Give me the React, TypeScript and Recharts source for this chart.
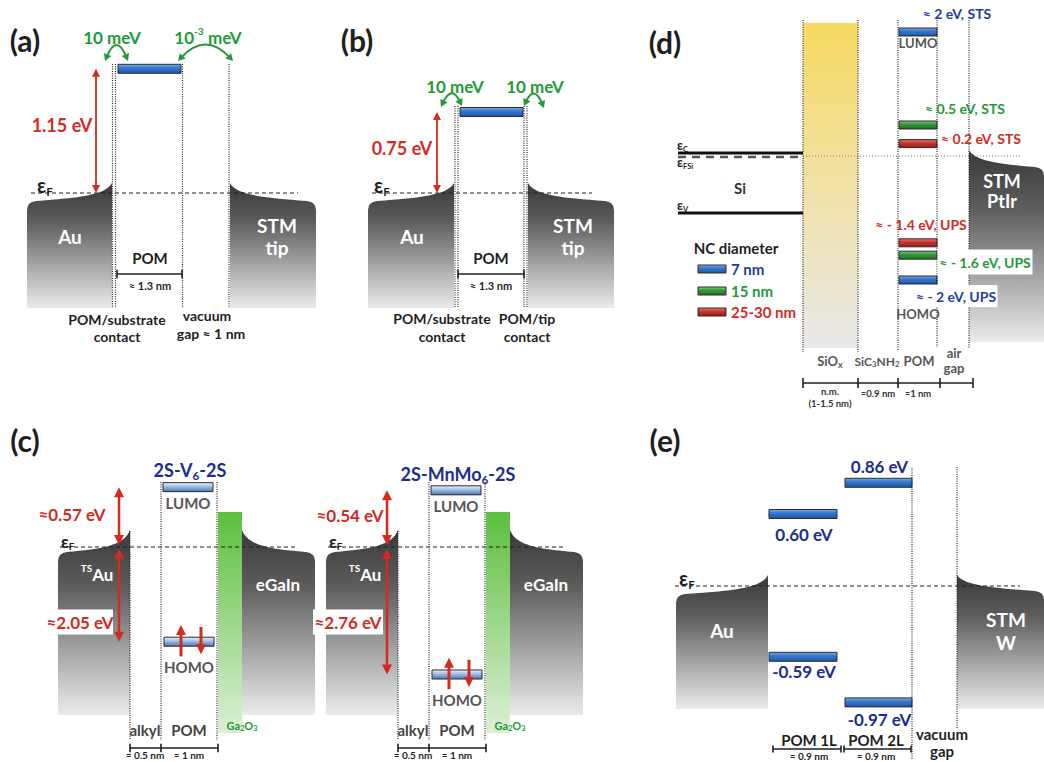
import React from 'react';
import { ComposedChart, XAxis, YAxis, ReferenceArea, ReferenceLine, ReferenceDot } from 'recharts';

const FONT = 'Lato, "Open Sans", "DejaVu Sans", sans-serif';
const INK = '#1f1f1f';
const GREY = '#565656';
const RED = '#d22b1f';
const GREEN = '#24993b';
const NAVY = '#1d2d8d';
const BLUE = '#1f3d9e';

// (a) / (b): single POM level above E_F (eV) and the tunnelling couplings
const abLevelEv = [1.15, 0.75];
const abCouplings = [['10 meV', '10^-3 meV'], ['10 meV', '10 meV']];

// (c): 2S-POM-2S junctions, LUMO / HOMO relative to E_F (eV)
const cMolecules = ['2S-V6-2S', '2S-MnMo6-2S'];
const cLumoEv = [0.57, 0.54];
const cHomoEv = [-2.05, -2.76];

// (d): one entry per nanocrystal diameter
const dSizes = ['7 nm', '15 nm', '25-30 nm'];
const dLumoEv = [2, 0.5, 0.2];
const dHomoEv = [-2, -1.6, -1.4];
const dLumoMethod = ['STS', 'STS', 'STS'];
const dHomoMethod = ['UPS', 'UPS', 'UPS'];

// (e): POM mono- and bilayer
const eLayers = ['POM 1L', 'POM 2L'];
const eLumoEv = [0.6, 0.86];
const eHomoEv = [-0.59, -0.97];

// ---------- small drawing helpers ----------

function Frame({ left, top, width, height, yTop, yBottom, children }: any) {
  return (
    <div style={{ position: 'absolute', left, top, width, height }}>
      <ComposedChart width={width} height={height} margin={{ top: 0, right: 0, bottom: 0, left: 0 }}>
        <XAxis type="number" dataKey="x" domain={[left, left + width]} hide allowDataOverflow />
        <YAxis type="number" domain={[yBottom, yTop]} hide allowDataOverflow />
        {children}
      </ComposedChart>
    </div>
  );
}

function Txt({ x, y, size = 15, color = INK, anchor = 'middle', box, children }: any) {
  return (
    <ReferenceDot
      x={x}
      y={y}
      r={0}
      ifOverflow="visible"
      shape={(p: any) => (
        <g>
          {box && <rect x={p.cx - box[0] / 2} y={p.cy - box[1] / 2} width={box[0]} height={box[1]} fill="#fff" />}
          <text
            x={p.cx}
            y={p.cy}
            textAnchor={anchor}
            dominantBaseline="central"
            fontFamily={FONT}
            fontSize={size}
            fontWeight={700}
            fill={color}
          >
            {children}
          </text>
        </g>
      )}
    />
  );
}

function EpsF({ x, y, sub = 'F', size = 20 }: any) {
  return (
    <Txt x={x} y={y} size={size} anchor="start">
      ε<tspan fontSize={size * 0.58} dy={size * 0.28}>{sub}</tspan>
    </Txt>
  );
}

// digits that follow a letter become subscripts (Ga2O3, 2S-V6-2S ...)
function chem(s: string, size: number) {
  const out: React.ReactNode[] = [];
  let low = false;
  for (let i = 0; i < s.length; i++) {
    const ch = s[i];
    const sub = /\d/.test(ch) && i > 0 && /[A-Za-z]/.test(s[i - 1]);
    if (sub) {
      out.push(<tspan key={i} fontSize={size * 0.65} dy={low ? 0 : size * 0.28}>{ch}</tspan>);
      low = true;
    } else {
      out.push(<tspan key={i} dy={low ? -size * 0.28 : 0}>{ch}</tspan>);
      low = false;
    }
  }
  return out;
}

function sup(s: string, size: number) {
  const m = s.match(/^(.*?)\^(\S+)(.*)$/);
  if (!m) return s;
  return [
    <tspan key="a">{m[1]}</tspan>,
    <tspan key="b" fontSize={size * 0.6} dy={-size * 0.35}>{m[2]}</tspan>,
    <tspan key="c" dy={size * 0.35}>{m[3]}</tspan>,
  ];
}

function Seg({ x1, y1, x2, y2, color = INK, width = 1, dash }: any) {
  return (
    <ReferenceLine
      segment={[{ x: x1, y: y1 }, { x: x2, y: y2 }]}
      stroke={color}
      strokeWidth={width}
      strokeDasharray={dash}
      ifOverflow="visible"
    />
  );
}

function Dotted({ x, from, to }: any) {
  return <Seg x1={x} x2={x} y1={from} y2={to} color="#2a2a2a" width={1.2} dash="1 1.3" />;
}

function tri(tx: number, ty: number, dx: number, dy: number, head: number, half: number) {
  const bx = tx - dx * head;
  const by = ty - dy * head;
  return `${tx},${ty} ${bx - dy * half},${by + dx * half} ${bx + dy * half},${by - dx * half}`;
}

function Arrow({ x1, y1, x2, y2, color = RED, width = 2, head = 8, half = 4, both = false }: any) {
  return (
    <ReferenceLine
      segment={[{ x: x1, y: y1 }, { x: x2, y: y2 }]}
      ifOverflow="visible"
      shape={(p: any) => {
        const L = Math.hypot(p.x2 - p.x1, p.y2 - p.y1) || 1;
        const ux = (p.x2 - p.x1) / L;
        const uy = (p.y2 - p.y1) / L;
        const sx = both ? p.x1 + ux * head * 0.7 : p.x1;
        const sy = both ? p.y1 + uy * head * 0.7 : p.y1;
        return (
          <g>
            <line x1={sx} y1={sy} x2={p.x2 - ux * head * 0.7} y2={p.y2 - uy * head * 0.7} stroke={color} strokeWidth={width} />
            <polygon points={tri(p.x2, p.y2, ux, uy, head, half)} fill={color} />
            {both && <polygon points={tri(p.x1, p.y1, -ux, -uy, head, half)} fill={color} />}
          </g>
        );
      }}
    />
  );
}

function Arc({ x1, y1, x2, y2, lift }: any) {
  return (
    <ReferenceLine
      segment={[{ x: x1, y: y1 }, { x: x2, y: y2 }]}
      ifOverflow="visible"
      shape={(p: any) => {
        const cx = (p.x1 + p.x2) / 2;
        const cy = Math.min(p.y1, p.y2) - lift;
        const unit = (ax: number, ay: number, bx: number, by: number) => {
          const L = Math.hypot(bx - ax, by - ay) || 1;
          return [(bx - ax) / L, (by - ay) / L];
        };
        const [ex, ey] = unit(cx, cy, p.x2, p.y2);
        const [sx, sy] = unit(cx, cy, p.x1, p.y1);
        const head = 7;
        return (
          <g>
            <path
              d={`M${p.x1 - sx * head * 0.6},${p.y1 - sy * head * 0.6} Q${cx},${cy} ${p.x2 - ex * head * 0.6},${p.y2 - ey * head * 0.6}`}
              stroke={GREEN}
              strokeWidth={2}
              fill="none"
            />
            <polygon points={tri(p.x1, p.y1, sx, sy, head, 4)} fill={GREEN} />
            <polygon points={tri(p.x2, p.y2, ex, ey, head, 4)} fill={GREEN} />
          </g>
        );
      }}
    />
  );
}

const metalShape = (tail: string, drop: number) => (p: any) => {
  const { x, y, width: w, height: h } = p;
  const b = y + h;
  const s = y + drop;
  const d =
    tail === 'right'
      ? `M${x},${b} L${x},${s + 8} Q${x},${s} ${x + 9},${s - 1} C${x + w * 0.6},${s - 4} ${x + w - 6},${s - 7} ${x + w},${y} L${x + w},${b} Z`
      : `M${x + w},${b} L${x + w},${s + 8} Q${x + w},${s} ${x + w - 9},${s - 1} C${x + w * 0.4},${s - 4} ${x + 6},${s - 7} ${x},${y} L${x},${b} Z`;
  return <path d={d} fill="url(#gMetal)" />;
};

function Metal({ x1, x2, top, bottom, tail, drop }: any) {
  return <ReferenceArea x1={x1} x2={x2} y1={bottom} y2={top} ifOverflow="visible" shape={metalShape(tail, drop)} />;
}

function Block({ x1, x2, y1, y2, fill }: any) {
  return <ReferenceArea x1={x1} x2={x2} y1={y1} y2={y2} fill={fill} fillOpacity={1} stroke="none" ifOverflow="visible" />;
}

function Level({ x1, x2, e, half, fill }: any) {
  return (
    <ReferenceArea
      x1={x1}
      x2={x2}
      y1={e - half}
      y2={e + half}
      fill={fill}
      fillOpacity={1}
      stroke="#2b2b2b"
      strokeWidth={1}
      ifOverflow="visible"
    />
  );
}

function ScaleBar({ y, xs, tick }: any) {
  return (
    <>
      <Seg x1={xs[0]} x2={xs[xs.length - 1]} y1={y} y2={y} width={1.6} />
      {xs.map((x: number) => (
        <Seg key={x} x1={x} x2={x} y1={y - tick} y2={y + tick} width={1.6} />
      ))}
    </>
  );
}

function Gradients() {
  const v = (id: string, stops: [number, string][]) => (
    <linearGradient id={id} x1="0" y1="0" x2="0" y2="1">
      {stops.map(([o, c]) => (
        <stop key={o} offset={o} stopColor={c} />
      ))}
    </linearGradient>
  );
  return (
    <svg width={0} height={0} style={{ position: 'absolute' }}>
      <defs>
        {v('gMetal', [[0, '#3a3a3a'], [0.3, '#5c5c5c'], [1, '#ebebeb']])}
        {v('gBlue', [[0, '#7fb0ea'], [0.35, '#3b7bd0'], [1, '#1d55a8']])}
        {v('gPale', [[0, '#eef4fb'], [1, '#4377bd']])}
        {v('gGreen', [[0, '#80c97c'], [0.4, '#3a9a3e'], [1, '#1e6e24']])}
        {v('gRed', [[0, '#ea7a6e'], [0.4, '#c83a30'], [1, '#9a1c16']])}
        {v('gGa', [[0, '#5cbf3d'], [1, '#dcf0d6']])}
        {v('gSiox', [[0, '#f8da62'], [1, '#e9e9e9']])}
      </defs>
    </svg>
  );
}

// ---------- (a) and (b) ----------

const AB = { ef: 193, k: 108 };
const yAB = (px: number) => (AB.ef - px) / AB.k;

function PanelAB() {
  const y = yAB;
  const half = 4.5 / AB.k;
  const [la, lb] = abLevelEv;
  return (
    <Frame left={0} top={0} width={640} height={420} yTop={y(0)} yBottom={y(420)}>
      {/* (a): Au | POM | vacuum gap | STM tip */}
      <Metal x1={27} x2={112} top={y(183)} bottom={y(308)} tail="right" drop={19} />
      <Metal x1={230} x2={316} top={y(183)} bottom={y(308)} tail="left" drop={19} />
      <Dotted x={112.5} from={y(64)} to={y(308)} />
      <Dotted x={115.5} from={y(64)} to={y(308)} />
      <Dotted x={182.5} from={y(64)} to={y(308)} />
      <Dotted x={229} from={y(64)} to={y(308)} />
      <Seg x1={31} x2={298} y1={0} y2={0} dash="4 3" />
      <Level x1={118} x2={181} e={la} half={half} fill="url(#gBlue)" />
      <Arrow x1={96} y1={0} x2={96} y2={la} both head={8} half={4} width={1.8} />
      <Txt x={62} y={la * 0.55} size={18} color={RED}>{`${la.toFixed(2)} eV`}</Txt>
      <Arc x1={105} y1={y(61)} x2={128} y2={y(61)} lift={28} />
      <Arc x1={178} y1={y(61)} x2={233} y2={y(61)} lift={30} />
      <Txt x={112} y={y(37)} size={17} color={GREEN}>{sup(abCouplings[0][0], 17)}</Txt>
      <Txt x={208} y={y(37)} size={17} color={GREEN}>{sup(abCouplings[0][1], 17)}</Txt>
      <Txt x={25} y={y(40)} size={30}>(a)</Txt>
      <EpsF x={37} y={y(185)} />
      <Txt x={70} y={y(236)} size={19} color="#fff">Au</Txt>
      <Txt x={277} y={y(225)} size={19} color="#fff">STM</Txt>
      <Txt x={277} y={y(247)} size={19} color="#fff">tip</Txt>
      <Txt x={150} y={y(258)} size={15}>POM</Txt>
      <ScaleBar y={y(274)} xs={[117, 182]} tick={0.04} />
      <Txt x={150} y={y(285)} size={11}>≈ 1.3 nm</Txt>
      <Txt x={117} y={y(319)} size={14}>POM/substrate</Txt>
      <Txt x={117} y={y(336)} size={14}>contact</Txt>
      <Txt x={207} y={y(315)} size={14}>vacuum</Txt>
      <Txt x={211} y={y(333)} size={14}>gap ≈ 1 nm</Txt>

      {/* (b): Au | POM | STM tip in contact */}
      <Metal x1={368} x2={454} top={y(183)} bottom={y(308)} tail="right" drop={19} />
      <Metal x1={528} x2={614} top={y(183)} bottom={y(308)} tail="left" drop={19} />
      <Dotted x={455} from={y(106)} to={y(308)} />
      <Dotted x={458} from={y(106)} to={y(308)} />
      <Dotted x={524} from={y(106)} to={y(308)} />
      <Dotted x={527} from={y(106)} to={y(308)} />
      <Seg x1={372} x2={592} y1={0} y2={0} dash="4 3" />
      <Level x1={460} x2={523} e={lb} half={half} fill="url(#gBlue)" />
      <Arrow x1={437} y1={0} x2={437} y2={lb} both head={8} half={4} width={1.8} />
      <Txt x={402} y={lb * 0.55} size={18} color={RED}>{`${lb.toFixed(2)} eV`}</Txt>
      <Arc x1={441} y1={y(107)} x2={462} y2={y(106)} lift={22} />
      <Arc x1={524} y1={y(106)} x2={544} y2={y(108)} lift={22} />
      <Txt x={455} y={y(86)} size={17} color={GREEN}>{sup(abCouplings[1][0], 17)}</Txt>
      <Txt x={535} y={y(86)} size={17} color={GREEN}>{sup(abCouplings[1][1], 17)}</Txt>
      <Txt x={357} y={y(40)} size={30}>(b)</Txt>
      <EpsF x={374} y={y(185)} />
      <Txt x={412} y={y(236)} size={19} color="#fff">Au</Txt>
      <Txt x={573} y={y(225)} size={19} color="#fff">STM</Txt>
      <Txt x={573} y={y(247)} size={19} color="#fff">tip</Txt>
      <Txt x={491} y={y(258)} size={15}>POM</Txt>
      <ScaleBar y={y(274)} xs={[458, 524]} tick={0.04} />
      <Txt x={491} y={y(285)} size={11}>≈ 1.3 nm</Txt>
      <Txt x={442} y={y(318)} size={14}>POM/substrate</Txt>
      <Txt x={442} y={y(336)} size={14}>contact</Txt>
      <Txt x={527} y={y(318)} size={14}>POM/tip</Txt>
      <Txt x={527} y={y(336)} size={14}>contact</Txt>
    </Frame>
  );
}

// ---------- (c) ----------

const C = { ef: 547, k: 105, below: 0.44 };
const yC = (px: number) => (C.ef - px) / C.k;
const sqC = (e: number) => (e >= 0 ? e : e * C.below);
const cShift = [0, 268];
const cValueX = [72, 350];
const cHomoTagX = [80, 348];
const cHomoBoxW = [66, 70];

function PanelC() {
  const y = yC;
  const half = 4.5 / C.k;
  return (
    <Frame left={0} top={420} width={640} height={342} yTop={y(420)} yBottom={y(762)}>
      {cMolecules.map((name, i) => {
        const dx = cShift[i];
        const lu = sqC(cLumoEv[i]);
        const ho = sqC(cHomoEv[i]);
        const pom = 189 + dx;
        return (
          <React.Fragment key={name}>
            <Metal x1={58 + dx} x2={130 + dx} top={y(530)} bottom={y(715)} tail="right" drop={23} />
            <Metal x1={242 + dx} x2={315 + dx} top={y(530)} bottom={y(715)} tail="left" drop={23} />
            <Block x1={218 + dx} x2={242 + dx} y1={y(733)} y2={y(512)} fill="url(#gGa)" />
            <Dotted x={130 + dx} from={y(531)} to={y(740)} />
            <Dotted x={161 + dx} from={y(482)} to={y(740)} />
            <Dotted x={217 + dx} from={y(482)} to={y(740)} />
            <Seg x1={60 + dx} x2={297 + dx} y1={0} y2={0} dash="4 3" />
            <Level x1={163 + dx} x2={213 + dx} e={lu} half={half} fill="url(#gPale)" />
            <Level x1={164 + dx} x2={214 + dx} e={ho} half={half} fill="url(#gPale)" />
            <Arrow x1={181 + dx} y1={ho - 0.14} x2={181 + dx} y2={ho + 0.16} width={3} head={10} half={5} />
            <Arrow x1={201 + dx} y1={ho + 0.14} x2={201 + dx} y2={ho - 0.12} width={3} head={10} half={5} />
            <Arrow x1={119 + dx} y1={0.02} x2={119 + dx} y2={lu} both width={2.5} head={10} half={5} />
            <Arrow x1={119 + dx} y1={-0.02} x2={119 + dx} y2={ho} both width={2.5} head={10} half={5} />
            <Txt x={cValueX[i]} y={lu * 0.55} size={17} color={RED}>{`≈${cLumoEv[i].toFixed(2)} eV`}</Txt>
            <Txt x={cHomoTagX[i]} y={y(622)} size={17} color={RED} box={[cHomoBoxW[i], 25]}>
              {`≈${Math.abs(cHomoEv[i]).toFixed(2)} eV`}
            </Txt>
            <Txt x={pom + 1} y={lu + 0.16} size={18} color={NAVY}>{chem(name, 18)}</Txt>
            <Txt x={pom - 1} y={lu - 0.15} size={15} color={GREY}>LUMO</Txt>
            <Txt x={pom} y={ho - 0.24} size={15} color={GREY}>HOMO</Txt>
            <Txt x={97 + dx} y={y(574)} size={17} color="#fff">
              <tspan fontSize={10} dy={-6}>TS</tspan>
              <tspan dy={6}>Au</tspan>
            </Txt>
            <Txt x={278 + dx} y={y(584)} size={17} color="#fff">eGaIn</Txt>
            <EpsF x={61 + dx} y={y(541)} size={17} />
            <Txt x={145 + dx} y={y(730)} size={15} color="#444">alkyl</Txt>
            <Txt x={189 + dx} y={y(730)} size={15} color="#444">POM</Txt>
            <Txt x={242 + dx} y={y(725)} size={11} color={GREEN}>{chem('Ga2O3', 11)}</Txt>
            <ScaleBar y={y(748)} xs={[130 + dx, 161 + dx, 218 + dx]} tick={0.04} />
            <Txt x={145 + dx} y={y(755)} size={10}>≈ 0.5 nm</Txt>
            <Txt x={189 + dx} y={y(755)} size={10}>≈ 1 nm</Txt>
          </React.Fragment>
        );
      })}
      <Txt x={25} y={y(440)} size={30}>(c)</Txt>
    </Frame>
  );
}

// ---------- (d) ----------

const D = { ef: 156, k: 62 };
const yD = (px: number) => (D.ef - px) / D.k;
const dFill = ['url(#gBlue)', 'url(#gGreen)', 'url(#gRed)'];
const dInk = [BLUE, GREEN, RED];
const dLumoTagAt = [
  { x: 957, dy: 0.3 },
  { x: 965, dy: 0.26 },
  { x: 981, dy: 0.09 },
];
const dHomoTagAt = [
  { x: 956, dy: -0.26, box: [83, 22] },
  { x: 985, dy: -0.11, box: [95, 25] },
  { x: 921, dy: 0.29 },
];
const fmtD = (e: number) => `≈ ${e < 0 ? '- ' + Math.abs(e) : e} eV`;

function PanelD() {
  const y = yD;
  const half = 4 / D.k;
  const legendY = [269, 291, 312];
  return (
    <Frame left={640} top={0} width={404} height={420} yTop={y(0)} yBottom={y(420)}>
      <Block x1={803} x2={858} y1={y(348)} y2={y(23)} fill="url(#gSiox)" />
      <Metal x1={969} x2={1044} top={y(150)} bottom={y(342)} tail="left" drop={18} />
      <Seg x1={803} x2={1022} y1={0} y2={0} color="#777" dash="1 2" />
      <Seg x1={678} x2={803} y1={y(153)} y2={y(153)} width={3} color="#111" />
      <Seg x1={678} x2={803} y1={y(157)} y2={y(157)} width={2.5} color="#555" dash="8 6" />
      <Seg x1={678} x2={803} y1={y(213)} y2={y(213)} width={3} color="#111" />
      <Dotted x={803} from={y(20)} to={y(352)} />
      <Dotted x={858} from={y(20)} to={y(352)} />
      <Dotted x={898} from={y(20)} to={y(350)} />
      <Dotted x={937} from={y(20)} to={y(347)} />
      <Dotted x={969} from={y(20)} to={y(348)} />
      {dSizes.map((s, i) => (
        <React.Fragment key={s}>
          <Level x1={899} x2={937} e={dLumoEv[i]} half={half} fill={dFill[i]} />
          <Level x1={899} x2={937} e={dHomoEv[i]} half={half} fill={dFill[i]} />
          <Level x1={698} x2={726} e={y(legendY[i])} half={half} fill={dFill[i]} />
          <Txt x={731} y={y(legendY[i])} size={15} color={dInk[i]} anchor="start">{s}</Txt>
          <Txt x={dLumoTagAt[i].x} y={dLumoEv[i] + dLumoTagAt[i].dy} size={14} color={dInk[i]}>
            {`${fmtD(dLumoEv[i])}, ${dLumoMethod[i]}`}
          </Txt>
          <Txt x={dHomoTagAt[i].x} y={dHomoEv[i] + dHomoTagAt[i].dy} size={14} color={dInk[i]} box={dHomoTagAt[i].box}>
            {`${fmtD(dHomoEv[i])}, ${dHomoMethod[i]}`}
          </Txt>
        </React.Fragment>
      ))}
      <Txt x={918} y={dLumoEv[0] - 0.18} size={13} color={GREY}>LUMO</Txt>
      <Txt x={918} y={dHomoEv[0] - 0.55} size={13} color={GREY}>HOMO</Txt>
      <Txt x={665} y={y(42)} size={30}>(d)</Txt>
      <EpsF x={677} y={y(145)} sub="C" size={13} />
      <EpsF x={677} y={y(162)} sub="FSi" size={13} />
      <EpsF x={677} y={y(205)} sub="V" size={13} />
      <Txt x={740} y={y(188)} size={15} color="#333">Si</Txt>
      <Txt x={1002} y={y(181)} size={18} color="#fff">STM</Txt>
      <Txt x={1002} y={y(201)} size={18} color="#fff">PtIr</Txt>
      <Txt x={736} y={y(248)} size={15}>NC diameter</Txt>
      <Txt x={830} y={y(361)} size={13} color={GREY}>
        SiO<tspan fontSize={9} dy={3}>x</tspan>
      </Txt>
      <Txt x={877} y={y(361)} size={12} color={GREY}>{chem('SiC3NH2', 12)}</Txt>
      <Txt x={919} y={y(361)} size={13} color={GREY}>POM</Txt>
      <Txt x={954} y={y(353)} size={13} color={GREY}>air</Txt>
      <Txt x={954} y={y(368)} size={13} color={GREY}>gap</Txt>
      <ScaleBar y={y(383)} xs={[803, 858, 898, 940, 973]} tick={0.08} />
      <Txt x={830} y={y(391)} size={9.5} color="#333">n.m.</Txt>
      <Txt x={830} y={y(403)} size={9.5} color="#333">(1-1.5 nm)</Txt>
      <Txt x={878} y={y(393)} size={9.5} color="#333">≈0.9 nm</Txt>
      <Txt x={918} y={y(393)} size={9.5} color="#333">≈1 nm</Txt>
    </Frame>
  );
}

// ---------- (e) ----------

const E = { ef: 586, k: 120 };
const yE = (px: number) => (E.ef - px) / E.k;
const eBarX = [
  [769, 837],
  [845, 912],
];
const eLumoTagDy = [-0.17, 0.14];
const eHomoTagDy = [-0.12, -0.14];

function PanelE() {
  const y = yE;
  const half = 4.5 / E.k;
  return (
    <Frame left={640} top={420} width={404} height={342} yTop={y(420)} yBottom={y(762)}>
      <Metal x1={676} x2={768} top={y(575)} bottom={y(709)} tail="right" drop={20} />
      <Metal x1={957} x2={1044} top={y(575)} bottom={y(709)} tail="left" drop={17} />
      <Dotted x={912} from={y(468)} to={y(760)} />
      <Dotted x={957} from={y(467)} to={y(728)} />
      <Seg x1={675} x2={1020} y1={0} y2={0} dash="4 3" />
      {eLayers.map((name, i) => {
        const [x1, x2] = eBarX[i];
        const mid = (x1 + x2) / 2 + 1;
        return (
          <React.Fragment key={name}>
            <Level x1={x1} x2={x2} e={eLumoEv[i]} half={half} fill="url(#gBlue)" />
            <Level x1={x1} x2={x2} e={eHomoEv[i]} half={half} fill="url(#gBlue)" />
            <Txt x={mid} y={eLumoEv[i] + eLumoTagDy[i]} size={17} color={NAVY}>{`${eLumoEv[i].toFixed(2)} eV`}</Txt>
            <Txt x={mid} y={eHomoEv[i] + eHomoTagDy[i]} size={17} color={NAVY}>{`${eHomoEv[i].toFixed(2)} eV`}</Txt>
            <Txt x={i === 0 ? 809 : 876} y={y(740)} size={15}>{name}</Txt>
            <Txt x={i === 0 ? 809 : 876} y={y(756)} size={10}>≈ 0.9 nm</Txt>
          </React.Fragment>
        );
      })}
      <Txt x={665} y={y(440)} size={30}>(e)</Txt>
      <EpsF x={679} y={y(578)} />
      <Txt x={722} y={y(630)} size={19} color="#fff">Au</Txt>
      <Txt x={1006} y={y(619)} size={19} color="#fff">STM</Txt>
      <Txt x={1006} y={y(642)} size={19} color="#fff">W</Txt>
      <Txt x={942} y={y(734)} size={15}>vacuum</Txt>
      <Txt x={942} y={y(751)} size={15}>gap</Txt>
      <ScaleBar y={y(749)} xs={[773, 841]} tick={0.03} />
      <ScaleBar y={y(749)} xs={[844, 911]} tick={0.03} />
    </Frame>
  );
}

export default function App() {
  return (
    <div style={{ position: 'absolute', left: 0, top: 0, width: 1044, height: 762, background: '#fff', overflow: 'hidden' }}>
      <Gradients />
      <PanelAB />
      <PanelC />
      <PanelD />
      <PanelE />
    </div>
  );
}
